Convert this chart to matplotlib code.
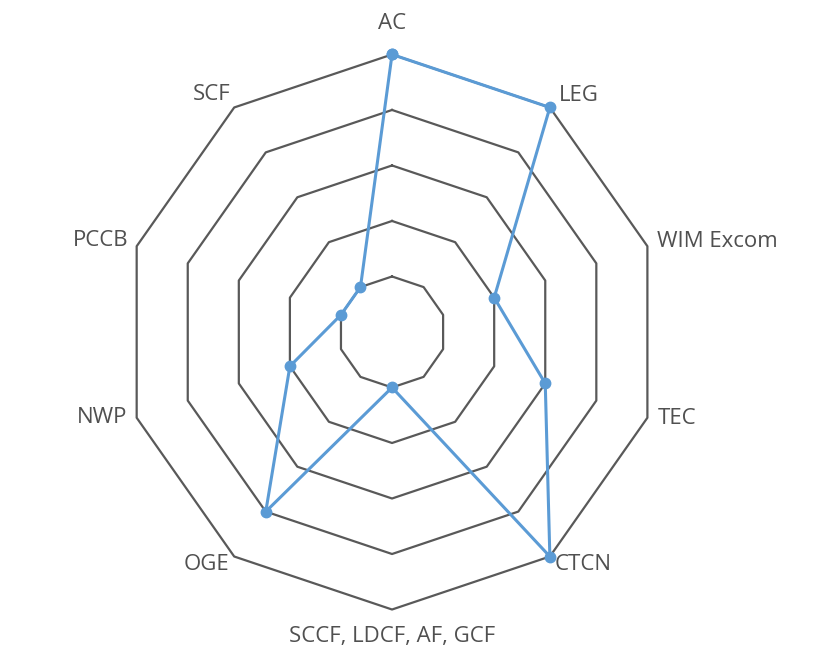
import numpy as np
import matplotlib
matplotlib.use("Agg")
import matplotlib.pyplot as plt

# Chart data
categories = ["AC", "LEG", "WIM Excom", "TEC", "CTCN",
              "SCCF, LDCF, AF, GCF", "OGE", "NWP", "PCCB", "SCF"]
values = [5, 5, 2, 3, 5, 1, 4, 2, 1, 1]
rings = [1, 2, 3, 4, 5]

# Style
LINE_COLOR = "#5B9BD5"
GRID_COLOR = "#595959"
TEXT_COLOR = "#505050"

# label offsets in pixels (dx, dy) and alignment, one per category
label_pos = [
    ((0, 31), "center"),
    ((9, 12), "left"),
    ((10, 5), "left"),
    ((10, -1), "left"),
    ((5, -8), "left"),
    ((0, -27), "center"),
    ((-5, -8), "right"),
    ((-9, 0), "right"),
    ((-8, 6), "right"),
    ((-4, 13), "right"),
]

plt.rcParams["font.family"] = ["Open Sans", "DejaVu Sans"]

n = len(categories)
angles = np.linspace(0, 2 * np.pi, n, endpoint=False)
closed = np.append(angles, angles[0])

fig = plt.figure(figsize=(8.23, 6.53), dpi=100)
ax = fig.add_axes([0.1501, 0.0666, 0.6525, 0.85], projection="polar")
ax.set_aspect("auto")
ax.set_theta_offset(np.pi / 2)
ax.set_theta_direction(-1)
ax.set_ylim(0, 5)

# decagon grid rings
for r in rings:
    ax.plot(closed, [r] * (n + 1), color=GRID_COLOR, lw=1.6, clip_on=False, zorder=1)

# series
ax.plot(closed, values + values[:1], color=LINE_COLOR, lw=2.2, marker="o",
        markersize=7.5, clip_on=False, zorder=3)

# category labels at outer vertices
for ang, name, ((dx, dy), ha) in zip(angles, categories, label_pos):
    ax.annotate(name, xy=(ang, rings[-1]), xytext=(dx, dy),
                textcoords="offset pixels", ha=ha, va="center",
                fontsize=16, color=TEXT_COLOR, annotation_clip=False)

ax.set_xticks([])
ax.set_yticks([])
ax.grid(False)
ax.spines["polar"].set_visible(False)

fig.savefig("out.png", dpi=100)
